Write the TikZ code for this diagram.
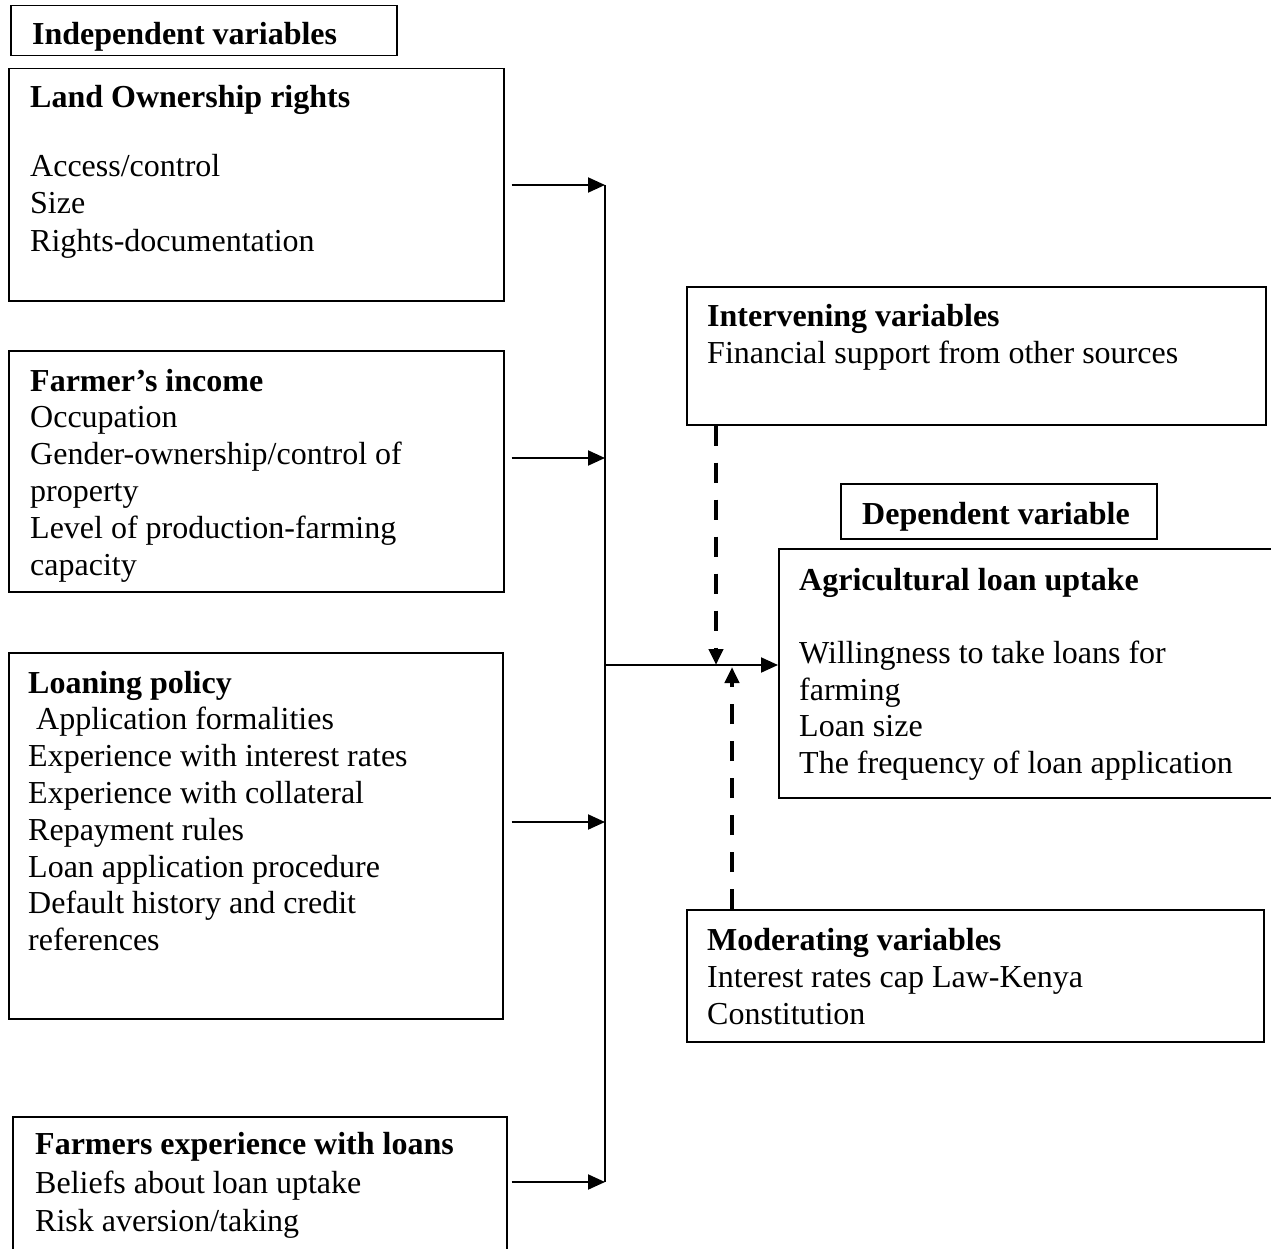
\documentclass[tikz,border=0pt]{standalone}
\usepackage{fontspec}
\setmainfont{Liberation Serif}
\usetikzlibrary{arrows.meta}
\begin{document}
\begin{tikzpicture}[x=1pt,y=-1pt,
  box/.style={draw, line width=1.5pt, inner sep=0pt, anchor=north west},
  txt/.style={anchor=base west, inner sep=0pt, yshift=-2pt, font=\fontsize{32}{37}\selectfont},
  ttl/.style={txt, font=\fontsize{32}{37}\selectfont\bfseries},
  arr/.style={line width=2pt, -{Triangle[length=17pt,width=15pt]}},
  darr/.style={line width=4pt, line cap=butt, dash pattern=on 20pt off 17pt, -{Triangle[length=16pt,width=14pt]}}
]
\useasboundingbox (0,0) rectangle (1271,1249);
\fill[white] (0,0) rectangle (1271,1249);

% boxes
\node[box, minimum width=386pt, minimum height=50pt] (indep) at (10,5) {};
\node[box, minimum width=495pt, minimum height=232pt] (land) at (8,68) {};
\node[box, minimum width=495pt, minimum height=241pt] (income) at (8,350) {};
\node[box, minimum width=494pt, minimum height=366pt] (policy) at (8,652) {};
\node[box, minimum width=494pt, minimum height=149pt] (exper) at (12,1116) {};
\node[box, minimum width=579pt, minimum height=138pt] (interv) at (686,286) {};
\node[box, minimum width=316pt, minimum height=55pt] (dep) at (840,483) {};
\node[box, minimum width=507pt, minimum height=249pt] (agri) at (778,548) {};
\node[box, minimum width=577pt, minimum height=132pt] (moder) at (686,909) {};

% texts
\node[ttl] (t0) at (32,43) {Independent variables};

\node[ttl] (t1) at (30,106) {Land Ownership rights};
\node[txt] at (30,175) {Access/control};
\node[txt] at (30,212) {Size};
\node[txt] at (30,250) {Rights-documentation};

\node[ttl] (t2) at (30,389) {Farmer’s income};
\node[txt] at (30,425) {Occupation};
\node[txt] at (30,462) {Gender-ownership/control of};
\node[txt] at (30,499) {property};
\node[txt] at (30,536) {Level of production-farming};
\node[txt] at (30,573) {capacity};

\node[ttl] (t3) at (28,691) {Loaning policy};
\node[txt] at (36,727) {Application formalities};
\node[txt] at (28,764) {Experience with interest rates};
\node[txt] at (28,801) {Experience with collateral};
\node[txt] at (28,838) {Repayment rules};
\node[txt] at (28,875) {Loan application procedure};
\node[txt] at (28,911) {Default history and credit};
\node[txt] at (28,948) {references};

\node[ttl] (t4) at (35,1152) {Farmers experience with loans};
\node[txt] at (35,1191) {Beliefs about loan uptake};
\node[txt] at (35,1229) {Risk aversion/taking};

\node[ttl] (t5) at (707,324) {Intervening variables};
\node[txt] at (707,361) {Financial support from other sources};

\node[ttl] (t6) at (862,522) {Dependent variable};

\node[ttl] (t7) at (799,588) {Agricultural loan uptake};
\node[txt] at (799,661) {Willingness to take loans for};
\node[txt] at (799,698) {farming};
\node[txt] at (799,734) {Loan size};
\node[txt] at (799,771) {The frequency of loan application};

\node[ttl] (t8) at (707,948) {Moderating variables};
\node[txt] at (707,985) {Interest rates cap Law-Kenya};
\node[txt] at (707,1022) {Constitution};

% connectors
\coordinate (b1) at (605,185);
\coordinate (b2) at (605,458);
\coordinate (b3) at (605,822);
\coordinate (b4) at (605,1182);
\coordinate (bm) at (605,665);
\draw[line width=2pt] (b1) -- (b4);
\draw[arr] ([xshift=7pt]land.east |- b1) -- (b1);
\draw[arr] ([xshift=7pt]income.east |- b2) -- (b2);
\draw[arr] ([xshift=8pt]policy.east |- b3) -- (b3);
\draw[arr] ([xshift=4pt]exper.east |- b4) -- (b4);
\draw[arr] (bm) -- (agri.west |- bm);

\coordinate (dn) at (716,665);
\coordinate (up) at (732,667);
\draw[darr] (interv.south -| dn) -- (dn);
\draw[darr] (moder.north -| up) -- (up);
\end{tikzpicture}
\end{document}
